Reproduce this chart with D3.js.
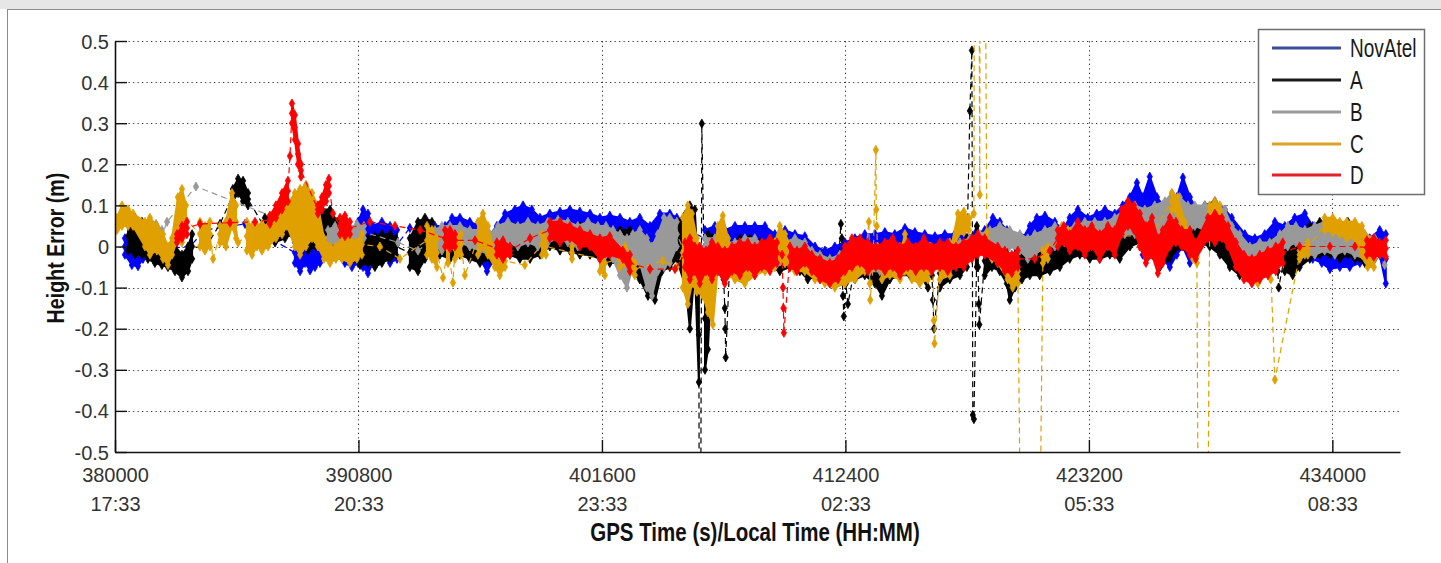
<!DOCTYPE html>
<html><head><meta charset="utf-8">
<script src="https://cdn.jsdelivr.net/npm/d3@7"></script>
<style>
html,body{margin:0;padding:0;background:#fff;}
svg{display:block;}
</style></head><body>
<svg id="chart" width="1441" height="563"></svg>
<script>
// ---------------- data ----------------
const xTickValues = [380000, 390800, 401600, 412400, 423200, 434000];
const xTickTimes = ["17:33", "20:33", "23:33", "02:33", "05:33", "08:33"];
const yTickValues = [-0.5, -0.4, -0.3, -0.2, -0.1, 0, 0.1, 0.2, 0.3, 0.4, 0.5];
const yTickLabels = ["-0.5", "-0.4", "-0.3", "-0.2", "-0.1", "0", "0.1", "0.2", "0.3", "0.4", "0.5"];
const seriesNames = ["NovAtel", "A", "B", "C", "D"];
const seriesColors = ["#0000ff", "#000000", "#999999", "#e0a000", "#ff0000"];
const legendColors = ["#3c4d9e", "#1a1a1a", "#9b9b9b", "#dca128", "#e4202a"];

// entries: [GPS time (s), low (m), high (m)]  or  [GPS time (s), value (m)] for isolated samples
const novatel = [
[380440,-0.02,0.02],[380750,-0.045,0.03],[381020,-0.048,0.025],[381240,-0.03,0.01],
[383330,0.0],[383990,0.04],[385770,0.055],
[387980,-0.04,0.01],[388210,-0.06,0.0],[388430,-0.04,0.01],[388650,-0.058,-0.01],[388870,-0.05,0.0],[389090,-0.04,0.01],[389310,-0.02,0.02],[389760,-0.02,0.03],[390200,-0.04,0.02],[390510,-0.05,0.0],[390780,-0.04,0.06],[391000,-0.05,0.09],[391220,-0.065,0.08],[391440,-0.04,0.05],[391840,-0.02,0.06],[392200,-0.04,0.05],[392510,-0.03,0.04],
[393080,0.045],
[394190,0.0,0.05],[394640,-0.01,0.05],[394950,-0.02,0.07],[395300,0.0,0.07],[395740,-0.02,0.06],[396190,-0.03,0.05],[396500,-0.06,0.02],[396940,-0.02,0.05],[397300,0.0,0.08],[397740,0.01,0.09],[398100,0.02,0.1],[398490,0.02,0.09],[398850,0.0,0.07],[399290,0.02,0.08],[399740,0.02,0.085],[400180,0.03,0.09],[400620,0.02,0.085],[401070,0.02,0.08],[401510,0.0,0.07],[401950,0.01,0.075],[402400,0.0,0.07],[402840,-0.02,0.06],[403280,-0.02,0.07],[403730,-0.03,0.05],[404170,0.0,0.08],[404610,0.01,0.08],[404920,0.02,0.07],
[405410,0.04],
[406170,0.0,0.04],[406610,0.0,0.05],[407050,0.0,0.04],[407500,-0.01,0.05],[407940,0.0,0.05],[408380,-0.01,0.05],[408830,-0.01,0.05],[409270,-0.01,0.03],[409720,-0.02,0.04],[410160,-0.02,0.03],[410600,-0.02,0.025],[411050,-0.04,0.0],[411490,-0.06,-0.01],[411930,-0.05,0.0],[412380,-0.04,0.01],[412820,-0.02,0.02],[413260,-0.01,0.03],[413710,-0.01,0.03],[414150,-0.01,0.035],[414590,0.0,0.03],[415040,-0.01,0.045],[415480,0.0,0.035],[415920,-0.01,0.03],[416370,-0.01,0.025],[416810,-0.01,0.03],[417250,-0.01,0.03],[417700,-0.01,0.025],[418140,0.0,0.03],[418580,0.01,0.04],[418940,0.02,0.07],[419250,0.02,0.06],[419560,0.01,0.04],[419920,0.0,0.02],[420270,-0.01,0.02],[420580,0.0,0.05],[420890,0.02,0.07],[421250,0.02,0.075],[421690,0.02,0.06],[422040,0.01,0.04],[422350,0.0,0.07],[422710,0.02,0.09],[423150,0.01,0.07],[423550,0.02,0.08],[423910,0.0,0.09],[424350,0.01,0.08],[424700,0.03,0.1],[425020,0.04,0.12],[425330,0.03,0.155],[425590,-0.02,0.12],[425900,0.01,0.17],[426220,-0.01,0.12],[426480,-0.03,0.1],[426790,-0.05,0.08],[427100,-0.02,0.12],[427370,0.0,0.168],[427680,-0.04,0.12],[427990,0.0,0.09],[428340,0.02,0.1],[428790,0.03,0.11],[429230,0.02,0.09],[429540,0.0,0.07],[430120,-0.04,0.03],[430560,-0.05,0.02],[431000,-0.04,0.03],[431450,-0.02,0.06],[431890,-0.01,0.05],[432330,0.0,0.07],[432780,-0.02,0.08],[433130,-0.03,0.05],[433530,-0.04,0.04],[433890,-0.055,0.03],[434330,-0.05,0.03],[434770,-0.05,0.03],[435220,-0.04,0.02],[435660,-0.03,0.02],[436100,-0.02,0.04],[436370,-0.09,0.03]
];

const seriesA = [
[380580,-0.01,0.06],[380890,-0.02,0.07],[381200,-0.02,0.06],[381460,-0.03,0.05],[381770,-0.04,0.02],[382080,-0.045,0.0],[382350,-0.05,-0.005],[382660,-0.06,0.0],[382970,-0.075,-0.02],[383240,-0.06,0.0],[383420,-0.03,0.03],
[383990,-0.005],[384660,0.055],
[385230,0.11,0.14],[385460,0.13,0.165],[385680,0.11,0.16],[385900,0.10,0.13],
[386650,0.02,0.07],[387100,0.01,0.08],[387540,0.02,0.095],[387850,0.03,0.1],[388210,0.0,0.08],[388560,-0.01,0.07],[388910,0.0,0.06],[389180,-0.01,0.09],[389540,0.0,0.09],[389850,0.02,0.06],[390200,-0.02,0.03],[390510,-0.03,0.02],[390870,-0.045,0.0],[391220,-0.04,0.02],[391530,-0.05,0.025],[391840,-0.04,0.03],[392200,-0.03,0.03],[392460,-0.02,0.02],
[393080,-0.05,0.02],[393440,-0.06,0.06],[393750,-0.03,0.07],[394060,0.0,0.06],[394410,-0.02,0.03],[394860,-0.03,0.01],[395300,-0.02,0.02],[395740,-0.03,0.02],[396190,-0.04,0.01],[396630,-0.03,0.02],[397070,-0.02,0.01],[397520,-0.02,0.02],[397960,-0.03,0.02],[398410,-0.03,0.03],[398850,-0.02,0.03],[399290,0.0,0.04],[399740,-0.01,0.03],[400180,-0.01,0.04],[400620,-0.02,0.05],[401070,-0.02,0.03],[401510,-0.03,0.02],[401950,-0.04,0.03],[402400,-0.04,0.04],[402840,-0.06,0.04],[403280,-0.08,0.02],[403640,-0.12,0.0],[403950,-0.13,-0.02],[404260,-0.06,0.02],[404610,-0.05,0.04],[404920,-0.03,0.06],
[405320,-0.1,0.08],[405500,-0.2,0.1],[405720,-0.05,0.09],[405900,-0.33,-0.1],
[405940,-1.5],[406030,0.299],
[406170,-0.3,-0.05],[406300,-0.25,0.03],[406480,-0.05,0.02],[406740,-0.06,0.01],
[407000,-0.08],[407050,-0.15],[407070,-0.2],[407090,-0.27],
[407280,-0.05,0.0],[407720,-0.05,0.02],[408160,-0.04,0.02],[408610,-0.05,0.01],[409050,-0.05,0.0],[409490,-0.06,0.0],[409940,-0.05,0.0],[410380,-0.06,-0.01],[410730,-0.08,-0.02],[411270,-0.07,-0.02],[411710,-0.08,-0.03],[412070,-0.08,-0.03],
[412200,0.055],[412240,0.02],[412250,-0.06],[412290,-0.12],[412330,-0.17],[412420,-0.09],[412510,-0.14],
[412820,-0.08,-0.02],[413260,-0.07,-0.02],[413710,-0.09,-0.03],[414020,-0.12,-0.06],[414370,-0.08,-0.03],[414820,-0.07,-0.02],[415260,-0.07,-0.02],[415700,-0.07,-0.02],[416060,-0.1,-0.03],
[416240,-0.07],[416280,-0.13],[416330,-0.2],
[416590,-0.1,-0.03],[417030,-0.08,-0.02],[417480,-0.07,0.0],[417790,-0.05,0.02],
[417920,0.33],[418010,0.477],[418050,-0.41],[418100,-0.42],
[418230,-0.05,0.05],
[418280,-0.05],[418320,-0.14],[418340,-0.19],
[418580,-0.07,0.0],[418900,-0.05,0.02],[419250,-0.06,0.02],[419560,-0.09,0.0],[419690,-0.13,-0.04],[419920,-0.1,-0.02],[420230,-0.08,0.0],[420580,-0.07,0.0],[421020,-0.07,0.01],[421470,-0.06,0.02],[421910,-0.05,0.02],[422350,-0.03,0.03],[422800,-0.02,0.04],[423240,-0.03,0.02],[423680,-0.03,0.02],[424130,-0.02,0.03],[424570,-0.03,0.05],[425020,0.0,0.08],[425460,0.01,0.07],[425900,-0.02,0.06],[426350,-0.05,0.04],[426790,-0.03,0.03],[427230,0.0,0.06],[427680,-0.02,0.05],[428120,0.01,0.06],[428560,0.0,0.05],[429010,-0.02,0.04],[429450,-0.05,0.02],[429890,-0.07,-0.01],[430340,-0.07,-0.01],[430780,-0.06,0.0],[431220,-0.05,0.01],
[431540,-0.02],[431580,-0.06],[431620,-0.1],
[431890,-0.06,0.02],[432240,-0.07,0.0],[432550,-0.05,0.03],[433000,-0.03,0.05],[433440,-0.02,0.06],[433890,-0.02,0.06],[434330,-0.03,0.05],[434690,-0.02,0.06],[435000,-0.03,0.04],[435440,-0.04,0.02],[435880,-0.03,0.01]
];

const seriesB = [
[381550,0.01,0.05],[381820,0.0,0.055],[382080,0.01,0.04],
[382310,0.06],[383590,0.146],
[389450,0.0,0.04],[389760,0.01,0.05],[390070,0.0,0.05],[390420,0.0,0.045],[390730,0.01,0.055],[391040,0.02,0.05],
[392550,0.01],[393440,-0.01],
[394190,0.0,0.04],[394500,-0.01,0.05],[394860,0.0,0.05],[395300,0.01,0.05],[395740,0.0,0.04],[396190,-0.01,0.04],[396630,-0.02,0.03],[396990,0.0,0.05],[397430,0.01,0.06],[397870,0.0,0.05],[398320,0.01,0.06],[398760,0.0,0.05],[399200,0.01,0.06],[399650,0.02,0.065],[400090,0.01,0.06],[400530,0.0,0.05],[400980,0.01,0.06],[401420,0.0,0.05],[401780,-0.02,0.05],[402090,-0.03,0.04],[402400,-0.07,0.03],[402710,-0.1,0.02],[402970,-0.05,0.03],[403280,-0.04,0.04],[403590,-0.1,0.02],[403820,-0.12,0.0],[404080,-0.06,0.03],[404350,-0.05,0.07],[404610,-0.04,0.07],[404920,0.0,0.06],
[405240,-0.01],
[406170,-0.02,0.02],[406610,-0.05,0.02],[407050,-0.05,0.01],[407500,-0.04,0.01],[407940,-0.05,0.02],[408380,-0.04,0.02],[408830,-0.04,0.0],[409270,-0.05,0.01],[409720,-0.04,0.01],[410160,-0.03,0.02],[410600,-0.04,0.01],[410910,-0.06,-0.01],[411270,-0.08,-0.02],[411710,-0.09,-0.03],[412150,-0.08,-0.02],[412600,-0.06,-0.02],[413040,-0.05,0.0],[413480,-0.06,0.0],[413930,-0.06,-0.01],[414370,-0.05,0.0],[414820,-0.05,0.0],[415260,-0.06,0.0],[415700,-0.05,0.0],[416150,-0.06,0.0],[416590,-0.05,0.0],[417030,-0.04,0.01],[417480,-0.03,0.01],[417920,-0.02,0.02],[418360,-0.01,0.03],[418810,0.0,0.04],[419250,-0.01,0.05],[419690,0.0,0.04],[420140,-0.01,0.03],[420490,-0.03,0.02],[420800,-0.02,0.03],[421250,0.0,0.04],[421690,0.0,0.05],[422130,0.01,0.04],[422580,0.01,0.05],[423020,0.0,0.06],[423460,0.01,0.06],[423910,0.01,0.06],[424350,0.02,0.07],[424790,0.03,0.09],[425240,0.03,0.1],[425680,0.01,0.09],[426120,0.02,0.1],[426570,0.03,0.11],[426880,0.04,0.13],[427230,0.04,0.12],[427590,0.03,0.1],[427900,0.05,0.1],[428340,0.04,0.1],[428790,0.04,0.1],[429230,0.03,0.09],[429540,0.0,0.05],[429890,-0.03,0.03],[430340,-0.05,0.0],[430780,-0.04,0.01],[431220,-0.03,0.01],[431670,-0.01,0.03],[432020,0.0,0.05],[432380,0.01,0.05],[432780,-0.02,0.04],[433220,-0.02,0.05],[433660,-0.01,0.06],[434110,-0.02,0.06],[434550,-0.01,0.05],[435000,-0.02,0.05],[435440,-0.03,0.03],[435880,-0.03,0.02],
[436320,-0.045]
];

const seriesC = [
[380090,0.04,0.07],[380310,0.05,0.1],[380580,0.05,0.09],[380800,0.05,0.08],
[381330,0.0,0.06],[381550,-0.02,0.07],[381860,-0.01,0.05],[382130,-0.03,0.03],[382350,-0.045,0.0],[382530,-0.02,0.02],[382790,0.02,0.12],[382970,0.01,0.14],[383150,0.03,0.1],
[383770,0.0,0.06],[383990,-0.01,0.05],[384210,0.0,0.06],[384350,-0.03],[384660,0.01,0.05],[384920,0.0,0.06],[385190,0.05,0.13],[385370,0.02,0.1],[385460,0.01],
[385850,-0.01,0.06],[386080,-0.02,0.05],[386300,0.0,0.05],[386520,-0.01,0.055],[386790,0.0,0.05],[387140,0.02,0.08],[387410,0.03,0.09],[387630,0.05,0.1],[387980,0.0,0.13],[388210,-0.02,0.14],[388470,0.0,0.15],[388740,0.02,0.13],[389000,0.0,0.1],[389270,-0.03,0.02],[389540,-0.04,0.0],[389800,-0.03,0.0],[390070,-0.03,0.02],[390420,-0.04,0.02],[390730,-0.03,0.01],[390950,-0.02,0.03],
[391750,0.0],[392640,-0.03],
[393840,-0.02,0.05],[394060,-0.03,0.04],[394280,-0.05,0.02],[394550,-0.076],[394770,-0.04,0.03],[394990,-0.088],[395080,-0.03,0.02],[395350,-0.02,0.03],[395520,-0.07],
[396100,-0.02,0.06],[396320,0.0,0.08],[396540,-0.02,0.05],[396850,-0.05,-0.02],[397070,-0.07,-0.03],[397300,-0.05,-0.02],
[398180,-0.045],
[398940,-0.02,0.03],[399120,-0.02,0.02],[400270,-0.03,0.0],[401510,-0.06,0.0],[401730,-0.07,-0.01],[402400,-0.05,-0.01],[402620,-0.04,0.0],[403060,-0.07,-0.04],
[404300,-0.035],[404920,-0.05],
[405190,-0.1,0.07],[405410,-0.14,0.1],[405590,-0.09,0.08],[405810,-0.11,0.02],[406080,-0.12,-0.04],[406300,-0.16,-0.05],[406520,-0.19,-0.04],[406740,-0.05,0.05],[406960,-0.06,0.075],[407190,-0.07,0.02],[407500,-0.08,-0.03],[407940,-0.09,-0.04],[408380,-0.07,-0.03],[408830,-0.06,-0.02],[409270,-0.05,0.01],[409490,-0.03,0.05],[409720,-0.04,0.03],[410160,-0.06,-0.02],[410600,-0.06,-0.02],[411050,-0.08,-0.04],[411490,-0.09,-0.05],[411930,-0.1,-0.05],[412380,-0.09,-0.04],[412820,-0.08,-0.04],[413260,-0.06,-0.02],
[413440,0.06],[413460,-0.02],[413480,-0.09],[413500,-0.13],[413620,-0.05],[413750,0.235],[413770,0.09],[413790,0.05],[413820,0.0],[413880,-0.03],
[414020,-0.08,-0.03],[414370,-0.07,-0.03],[414820,-0.08,-0.02],[415040,-0.06,0.03],[415350,-0.08,-0.03],[415700,-0.09,-0.04],[416060,-0.08,-0.04],
[416280,-0.05],[416320,-0.18],[416350,-0.236],
[416590,-0.08,-0.03],[417030,-0.07,-0.02],
[417390,0.03,0.08],[417650,0.035,0.085],[417880,0.04,0.07],
[418100,0.08],[418190,3.0],[418360,0.126],[418410,3.0],[418670,0.035],
[418900,-0.03,0.0],[419160,-0.04,-0.01],[419600,-0.08,-0.05],[419820,-0.1,-0.06],[420050,-0.09,-0.06],
[420580,-3.0],
[421160,-0.04,-0.01],[421380,-0.03,0.0],[422000,0.02,0.05],[422270,0.02,0.04],
[425460,0.0,0.05],[425770,-0.01,0.03],
[426880,0.09,0.13],[427140,0.08,0.12],[427450,0.03,0.06],[427810,-0.03,0.0],[427990,-0.04,-0.01],
[428250,-3.0],
[428560,0.07,0.1],[428790,0.08,0.11],[429010,0.07,0.1],
[430340,-0.07,-0.04],[430700,-0.09,-0.05],[431000,-0.06,-0.03],[431270,-0.08,-0.04],
[431450,-0.324],
[432550,-0.03,-0.01],[432910,-0.02,0.01],[433660,0.04,0.07],[434020,0.035,0.07],[434330,0.03,0.06],[434640,0.02,0.06],[435000,0.02,0.06],[435310,-0.02,0.05],[435570,-0.05,0.02],[435840,-0.05,-0.01]
];

const seriesD = [
[382750,0.01,0.03],[382970,0.02,0.05],[383190,0.03,0.06],
[383770,0.055],[385100,0.058],[386210,0.06],
[386870,0.055,0.075],[387140,0.07,0.1],[387410,0.09,0.13],[387670,0.11,0.16],
[387760,0.22],
[387850,0.3,0.348],[387980,0.26,0.32],[388120,0.2,0.25],[388250,0.17,0.2],
[389000,0.08,0.1],[389180,0.09,0.12],[389360,0.11,0.15],[389490,0.13,0.165],
[389670,0.08],
[389980,0.03,0.07],[390200,0.025,0.075],[390420,0.03,0.06],
[391310,0.06],[392420,0.05],[393530,0.04],
[394640,0.0,0.04],[394860,-0.005,0.04],[395080,0.0,0.03],
[395970,0.015],
[396940,-0.02,0.01],[397210,-0.03,0.015],[397520,-0.02,0.0],
[398410,0.02],
[399290,0.02,0.06],[399740,0.01,0.06],[400180,0.02,0.05],[400620,0.0,0.04],[401070,0.0,0.03],[401510,-0.03,0.02],[401950,-0.02,0.025],[402530,-0.03,-0.01],[402840,-0.06,-0.02],
[403730,-0.055],[404840,-0.055],
[405280,-0.05,0.01],[405500,-0.08,0.02],[405720,-0.06,0.0],[405940,-0.09,0.0],[406210,-0.06,-0.01],[406480,-0.08,0.01],[406740,-0.06,0.0],[407050,-0.09,-0.01],[407370,-0.06,0.0],[407720,-0.07,0.01],[408070,-0.05,0.01],[408380,-0.07,0.0],[408690,-0.05,0.01],[409050,-0.06,0.02],[409360,-0.04,0.01],
[409590,-0.02],[409630,-0.1],[409650,-0.15],[409670,-0.21],
[409940,-0.05,0.0],[410250,-0.06,-0.01],[410600,-0.04,0.0],[410910,-0.06,-0.02],[411270,-0.08,-0.03],[411710,-0.09,-0.04],[412070,-0.08,-0.03],[412380,-0.06,0.0],[412690,-0.05,0.02],[413040,-0.04,0.02],[413400,-0.06,0.01],[413750,-0.05,0.0],[414150,-0.06,0.01],[414500,-0.05,0.02],[414820,-0.07,0.0],[415170,-0.05,0.01],[415520,-0.06,0.0],[415880,-0.05,0.02],[416230,-0.06,0.0],[416590,-0.05,0.01],[416940,-0.06,0.01],[417300,-0.05,0.0],[417650,-0.05,0.01],[418010,-0.03,0.02],[418270,-0.02,0.03],[418580,-0.02,0.02],
[419160,-0.04,0.0],[419470,-0.06,-0.01],[419780,-0.065,-0.02],[420050,-0.05,-0.01],
[420800,-0.03],[421470,-0.01],
[421820,0.0,0.04],[422090,0.01,0.05],[422350,-0.01,0.03],[422710,0.0,0.06],[423020,-0.02,0.04],[423330,0.0,0.05],[423680,-0.03,0.03],[424040,0.0,0.05],[424350,-0.02,0.04],[424660,0.03,0.09],[424930,0.05,0.11],[425200,0.04,0.1],[425460,0.0,0.08],[425730,-0.04,0.05],[426000,-0.02,0.07],[426260,-0.065,0.02],[426480,-0.04,0.04],[426790,0.0,0.07],[427060,0.01,0.06],[427320,0.0,0.04],[427680,-0.02,0.04],[427940,-0.03,0.01],[428480,0.02,0.07],[428790,0.01,0.08],[429100,0.02,0.07],[429370,0.0,0.05],[429720,-0.05,0.01],[430080,-0.08,-0.02],[430430,-0.09,-0.03],[430780,-0.08,-0.02],[431140,-0.07,-0.01],[431490,-0.06,0.0],[431800,-0.04,0.01],
[432550,0.0],[433890,0.0],[435000,0.0],
[435530,-0.02,0.015],[435840,-0.025,0.02],[436100,-0.02,0.01],[436370,-0.025,0.015]
];

const allSeries = [novatel, seriesA, seriesB, seriesC, seriesD];

// ---------------- chart ----------------
const svg = d3.select("#chart");
const W = 1441, H = 563;
const x = d3.scaleLinear().domain([380000, 437000]).range([115, 1400]);
const y = d3.scaleLinear().domain([-0.5, 0.5]).range([452, 41]);
const tickFont = "'Liberation Sans', Arial, sans-serif";

// window frame
svg.append("rect").attr("x", 0).attr("y", 0).attr("width", W).attr("height", 9).attr("fill", "#e6e6e6");
svg.append("line").attr("x1", 7).attr("x2", W).attr("y1", 9.5).attr("y2", 9.5).attr("stroke", "#8c8c8c").attr("stroke-width", 1);
svg.append("line").attr("x1", 7.5).attr("x2", 7.5).attr("y1", 9).attr("y2", H).attr("stroke", "#8c8c8c").attr("stroke-width", 1);

// grid
const grid = svg.append("g");
grid.selectAll("line.hg").data(yTickValues.filter(v => v > -0.5)).join("line")
  .attr("x1", x.range()[0]).attr("x2", x.range()[1])
  .attr("y1", d => Math.round(y(d)) + 0.5).attr("y2", d => Math.round(y(d)) + 0.5)
  .attr("stroke", "#3a3a3a").attr("stroke-width", 1).attr("stroke-dasharray", "1.3,3.2");
grid.selectAll("line.vg").data(xTickValues.filter(v => v > 380000)).join("line")
  .attr("x1", d => Math.round(x(d)) + 0.5).attr("x2", d => Math.round(x(d)) + 0.5)
  .attr("y1", y(-0.5)).attr("y2", y(0.5))
  .attr("stroke", "#3a3a3a").attr("stroke-width", 1).attr("stroke-dasharray", "1.3,3.2");

// clip
svg.append("clipPath").attr("id", "plotclip").append("rect")
  .attr("x", x.range()[0]).attr("y", y(0.5)).attr("width", x.range()[1] - x.range()[0]).attr("height", y(-0.5) - y(0.5));
const plot = svg.append("g").attr("clip-path", "url(#plotclip)");

const diamond = d3.symbol().type(d3.symbolDiamond).size(24);
const GAP = 600;

allSeries.forEach((data, si) => {
  const col = seriesColors[si];
  const pts = data.map(d => ({ t: d[0], lo: d[1], hi: d.length > 2 ? d[2] : d[1], dense: d.length > 2 }));
  const g = plot.append("g");
  const runs = [];
  let cur = [];
  pts.forEach((p, i) => {
    const prev = pts[i - 1];
    if (p.dense && prev && prev.dense && p.t - prev.t <= GAP) { cur.push(p); }
    else { if (cur.length) runs.push(cur); cur = p.dense ? [p] : []; }
  });
  if (cur.length) runs.push(cur);
  const area = d3.area().x(d => x(d.t)).y0(d => y(d.lo)).y1(d => y(d.hi));
  runs.forEach(r => {
    if (r.length > 1) {
      g.append("path").attr("d", area(r)).attr("fill", col).attr("stroke", col).attr("stroke-width", 2).attr("stroke-linejoin", "round");
    } else {
      g.append("line").attr("x1", x(r[0].t)).attr("x2", x(r[0].t)).attr("y1", y(r[0].lo)).attr("y2", y(r[0].hi))
        .attr("stroke", col).attr("stroke-width", 4);
    }
  });
  const line = d3.line().x(d => x(d.t)).y(d => y((d.lo + d.hi) / 2));
  g.append("path").attr("d", line(pts)).attr("fill", "none").attr("stroke", col)
    .attr("stroke-width", 1.2).attr("stroke-dasharray", "6,4");
  const marks = [];
  pts.forEach(p => { marks.push([p.t, p.lo]); if (p.dense) { marks.push([p.t, p.hi]); marks.push([p.t, (p.lo + p.hi) / 2]); } });
  g.selectAll("path.m").data(marks).join("path")
    .attr("d", diamond).attr("transform", d => `translate(${x(d[0])},${y(d[1])})`)
    .attr("fill", col).attr("stroke", col).attr("stroke-width", 0.8);
});

// axes
const yAxis = d3.axisLeft(y).tickValues(yTickValues).tickFormat((d, i) => yTickLabels[i])
  .tickSize(-12).tickSizeOuter(0).tickPadding(7);
const gy = svg.append("g").attr("transform", `translate(${x.range()[0]},0)`).call(yAxis);
gy.select(".domain").attr("stroke", "#111").attr("stroke-width", 1.6);
gy.selectAll(".tick line").attr("stroke", "#111").attr("stroke-width", 1.4);
gy.selectAll(".tick text").attr("font-family", tickFont).attr("font-size", 20).attr("fill", "#333").attr("x", -6).attr("dy", "0.35em");

const xAxis = d3.axisBottom(x).tickValues(xTickValues).tickFormat(d => String(d))
  .tickSize(-12).tickSizeOuter(0).tickPadding(10);
const gx = svg.append("g").attr("transform", `translate(0,${y.range()[0]})`).call(xAxis);
gx.select(".domain").attr("stroke", "#111").attr("stroke-width", 1.6);
gx.selectAll(".tick line").attr("stroke", "#111").attr("stroke-width", 1.4);
gx.selectAll(".tick text").attr("font-family", tickFont).attr("font-size", 20).attr("fill", "#333").attr("y", 30).attr("dy", 0);
gx.selectAll(".tick").append("text").text((d, i) => xTickTimes[i])
  .attr("font-family", tickFont).attr("font-size", 20).attr("fill", "#333")
  .attr("text-anchor", "middle").attr("y", 59);

// axis titles (condensed via horizontal scaling)
svg.append("g").attr("transform", "translate(64,248) rotate(-90) scale(0.82,1)")
  .append("text").text("Height Error (m)")
  .attr("text-anchor", "middle").attr("font-family", tickFont).attr("font-weight", "bold")
  .attr("font-size", 24).attr("fill", "#111");
svg.append("g").attr("transform", "translate(755,541) scale(0.82,1)")
  .append("text").text("GPS Time (s)/Local Time (HH:MM)")
  .attr("text-anchor", "middle").attr("font-family", tickFont).attr("font-weight", "bold")
  .attr("font-size", 25).attr("fill", "#111");

// legend
const lg = svg.append("g");
lg.append("rect").attr("x", 1258.5).attr("y", 29.5).attr("width", 166).attr("height", 165)
  .attr("fill", "#fff").attr("stroke", "#6e6e6e").attr("stroke-width", 1.5);
const rowY = [48, 80, 112, 144, 175];
seriesNames.forEach((n, i) => {
  lg.append("line").attr("x1", 1272).attr("x2", 1341).attr("y1", rowY[i]).attr("y2", rowY[i])
    .attr("stroke", legendColors[i]).attr("stroke-width", 3);
  lg.append("g").attr("transform", `translate(1350,${rowY[i] + 9}) scale(0.76,1)`)
    .append("text").text(n)
    .attr("font-family", tickFont).attr("font-size", 25).attr("fill", "#1a1a1a");
});
</script>
</body></html>
